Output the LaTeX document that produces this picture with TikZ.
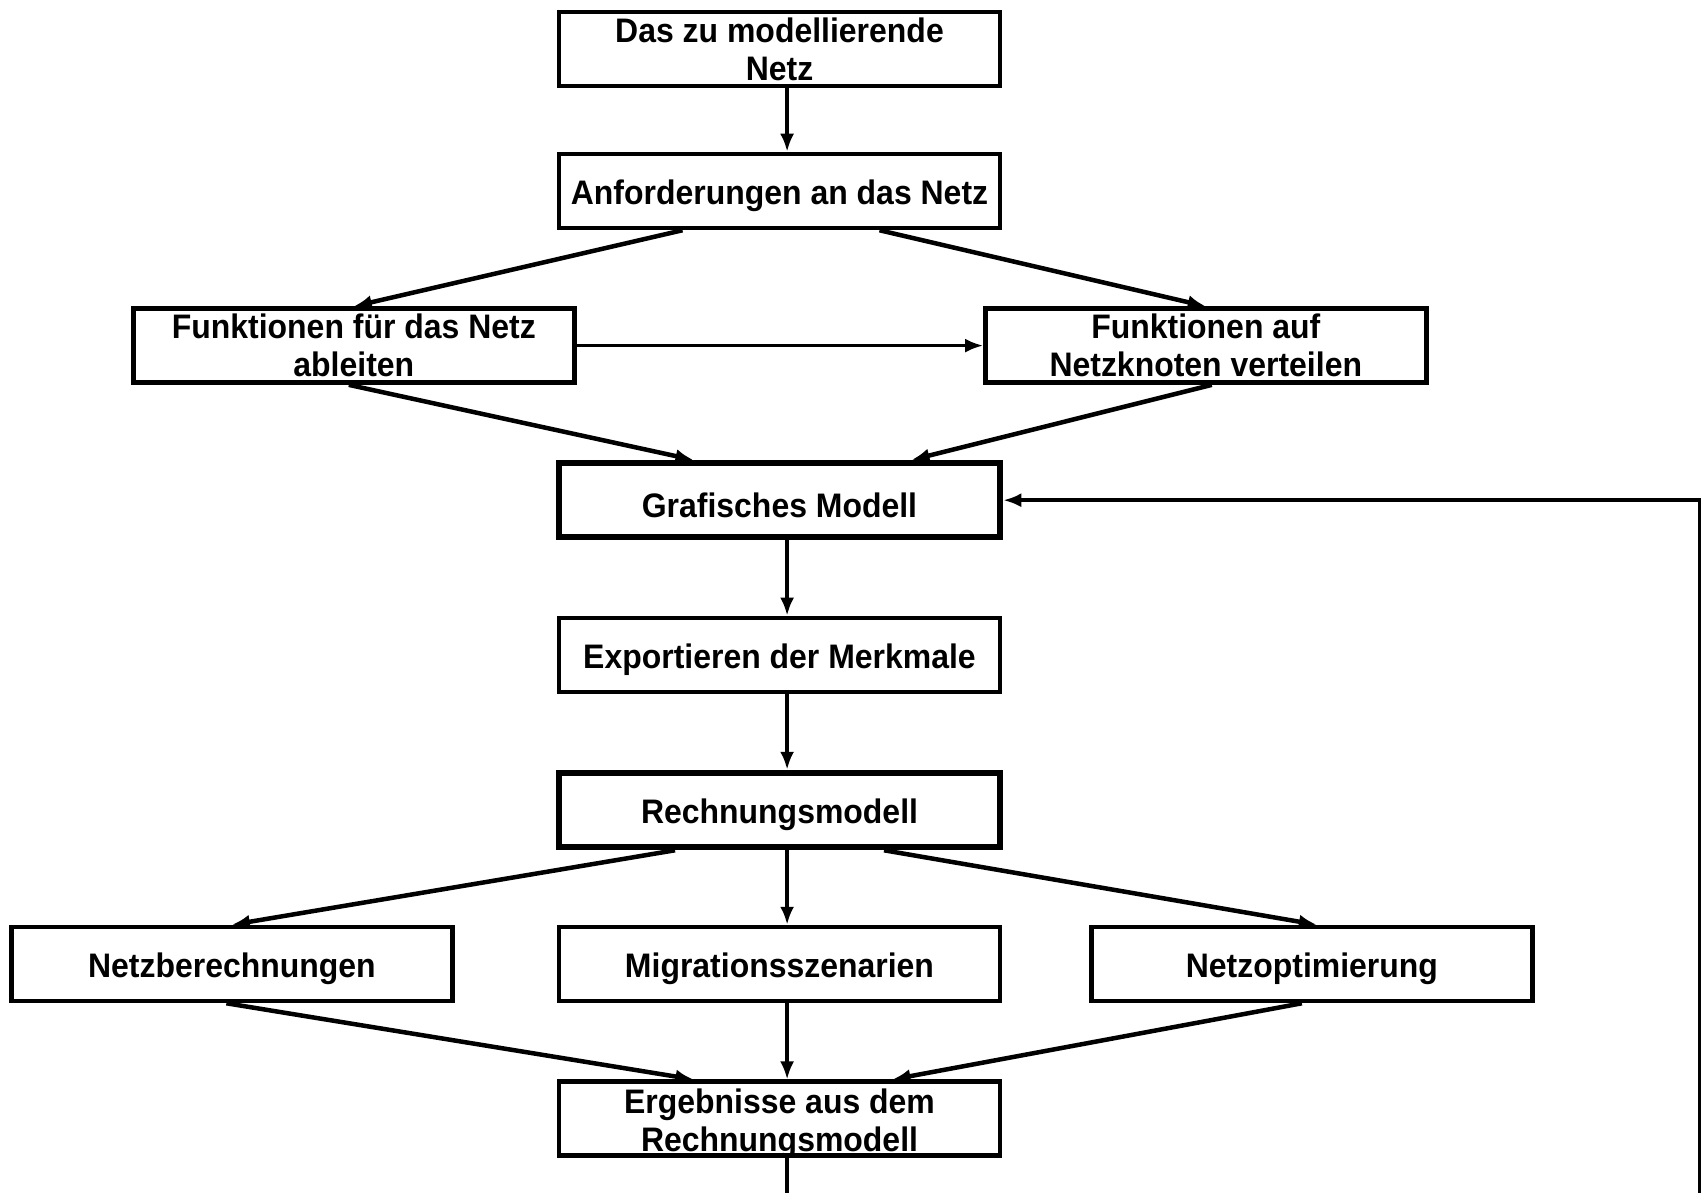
\documentclass[tikz,border=0pt]{standalone}
\usepackage{fontspec}
\setmainfont{Liberation Sans}[FakeStretch=0.94]
\usetikzlibrary{arrows.meta,calc}
\begin{document}
\begin{tikzpicture}[x=1pt,y=-1pt,
  box/.style={draw, line width=4.5pt, minimum width=441pt, minimum height=74pt,
    inner sep=0pt, align=center, font=\fontsize{34}{38}\selectfont\bfseries,
    execute at begin node={\rule{0pt}{35pt}}},
  thickbox/.style={box, line width=6.5pt},
  conn/.style={line width=4.5pt, -{Latex[length=18pt,width=14pt]}},
  thinconn/.style={conn, line width=3.5pt}
]
\useasboundingbox (0,0) rectangle (1707,1193);

% process boxes
\node[box] (b1) at (779.5,49) {Das zu modellierende\\Netz};
\node[box] (b2) at (779.5,191) {Anforderungen an das Netz};
\node[box] (b3) at (353.8,345.6) {Funktionen für das Netz\\ableiten};
\node[box] (b4) at (1205.8,345.6) {Funktionen auf\\Netzknoten verteilen};
\node[thickbox] (b5) at (779.5,500.2) {Grafisches Modell};
\node[box] (b6) at (779.5,654.9) {Exportieren der Merkmale};
\node[thickbox] (b7) at (779.5,810) {Rechnungsmodell};
\node[box] (b8) at (231.9,964) {Netzberechnungen};
\node[box] (b9) at (779.5,964) {Migrationsszenarien};
\node[box] (b10) at (1311.9,964) {Netzoptimierung};
\node[box, inner ysep=-4pt] (b11) at (779.5,1118.7) {\rule{0pt}{35pt}Ergebnisse aus dem\\Rechnungsmodell};

% loose ends at the lower border
\coordinate (out) at ($(b11.south)+(7.6,0)$);
\coordinate (outend) at (out |- 0,1193);
\coordinate (back) at (1699.5,1193);
\coordinate (backtop) at (1699.5,500.2);

% connectors
\draw[thinconn] ($(b1.south)+(7.6,0)$) -- ($(b2.north)+(7.6,0)$);
\draw[conn] ($(b2.south)+(-97,0)$) -- (b3.north);
\draw[conn] ($(b2.south)+(100,0)$) -- (b4.north);
\draw[thinconn, line width=3pt] (b3.east) -- (b4.west);
\draw[conn] ($(b3.south)+(-5,0)$) -- ($(b5.north)+(-86,0)$);
\draw[conn] ($(b4.south)+(6,0)$) -- ($(b5.north)+(132,0)$);
\draw[thinconn] ($(b5.south)+(7.6,0)$) -- ($(b6.north)+(7.6,0)$);
\draw[thinconn] ($(b6.south)+(7.6,0)$) -- ($(b7.north)+(7.6,0)$);
\draw[conn] ($(b7.south)+(-104.5,0)$) -- (b8.north);
\draw[thinconn] ($(b7.south)+(7.6,0)$) -- ($(b9.north)+(7.6,0)$);
\draw[conn] ($(b7.south)+(104.5,0)$) -- ($(b10.north)+(5,0)$);
\draw[conn] ($(b8.south)+(-5.5,0)$) -- ($(b11.north)+(-86,0)$);
\draw[thinconn] ($(b9.south)+(7.6,0)$) -- ($(b11.north)+(7.6,0)$);
\draw[conn] ($(b10.south)+(-10,0)$) -- ($(b11.north)+(113,0)$);
\draw[line width=3.5pt] (out) -- (outend);
\draw[thinconn] (back) -- (backtop) -- (b5.east);
\end{tikzpicture}
\end{document}
